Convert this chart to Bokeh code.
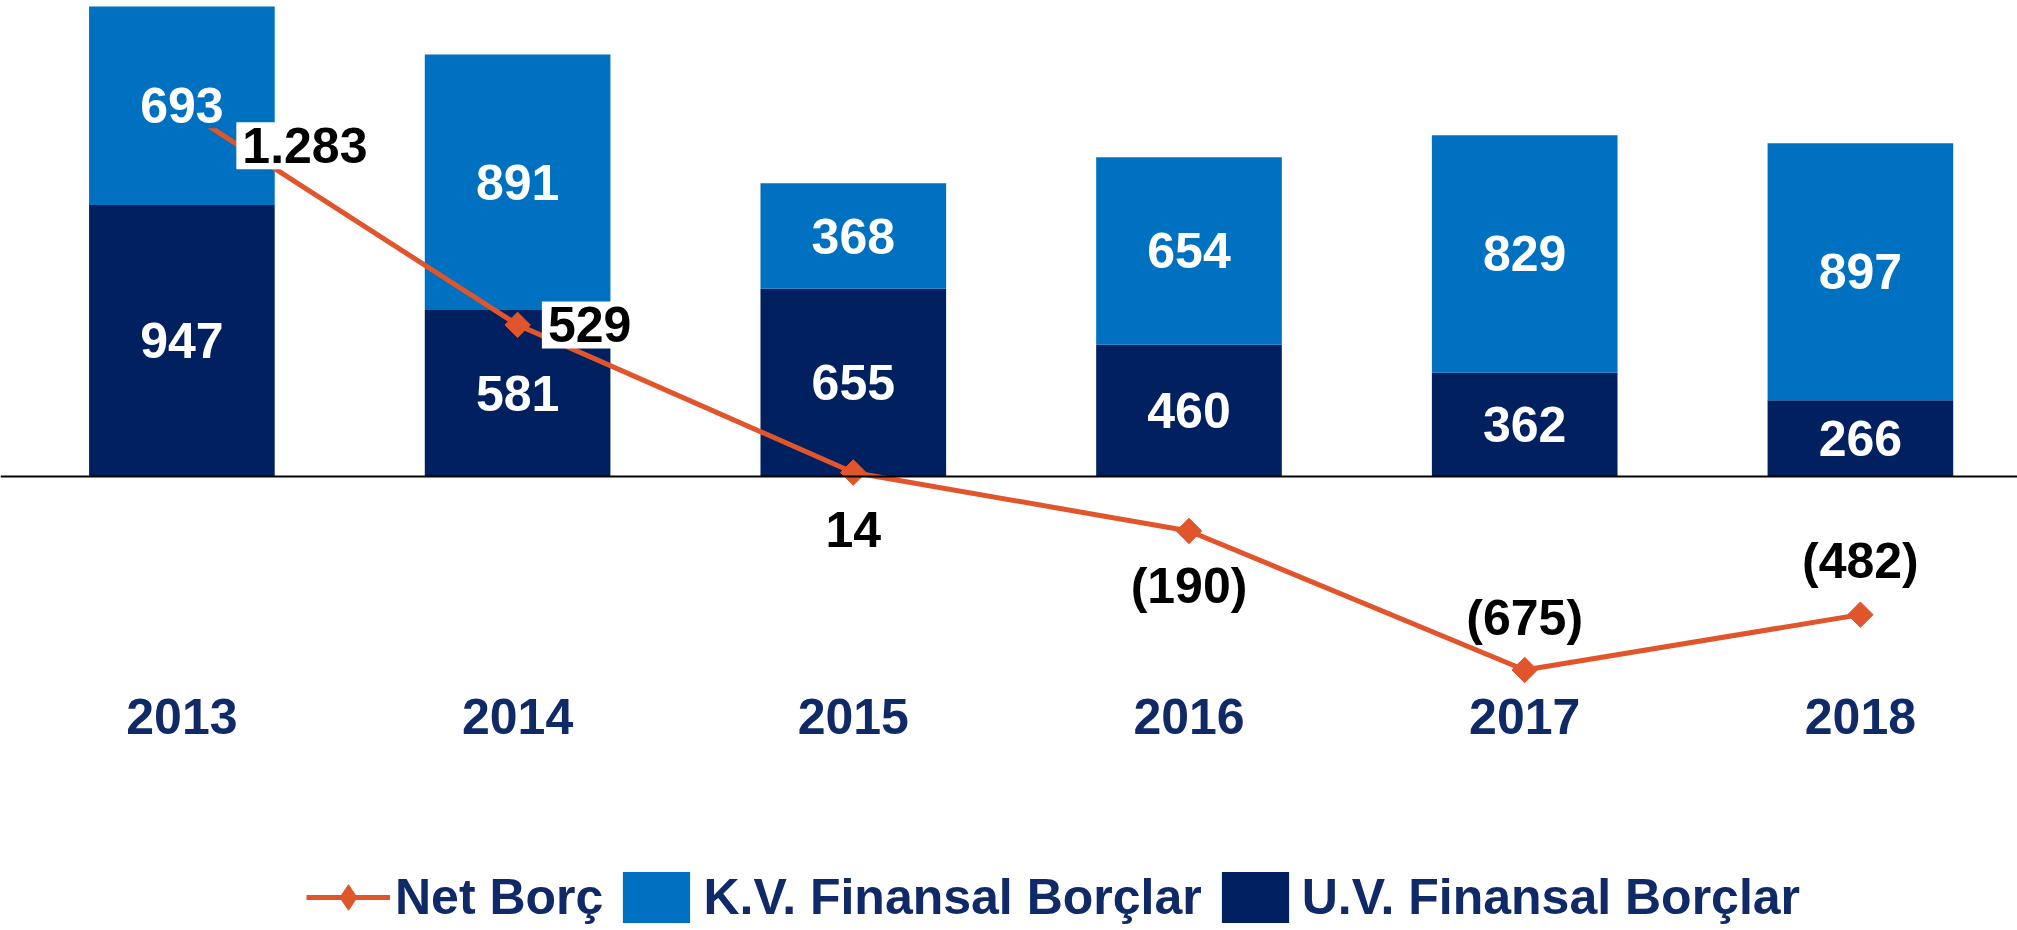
from bokeh.plotting import figure
from bokeh.models import Range1d, Span, Legend, LegendItem, ColumnDataSource
from bokeh.core.properties import value
from bokeh.embed import file_html
from bokeh.resources import INLINE
import numpy as np

# ---- data ----
years = ["2013", "2014", "2015", "2016", "2017", "2018"]
uv_borc = [947, 581, 655, 460, 362, 266]      # U.V. Finansal Borçlar
kv_borc = [693, 891, 368, 654, 829, 897]      # K.V. Finansal Borçlar
net_borc = [1283, 529, 14, -190, -675, -482]  # Net Borç
net_text = ["1.283", "529", "14", "(190)", "(675)", "(482)"]

# ---- style ----
LIGHT = "#0070C0"
DARK = "#002060"
ORANGE = "#E0552B"
NAVY = "#102A68"
FONT = value("Liberation Sans")
FS = "50px"

W, H = 2017, 930
px_per_cat = 335.7
first_center = 181.4
zero_y = 476
px_per_unit = 0.2866

x = np.arange(len(years))
uv = np.array(uv_borc)
kv = np.array(kv_borc)

src = ColumnDataSource(dict(
    x=x, uv=uv, top=uv + kv,
    uv_mid=uv / 2, kv_mid=uv + kv / 2,
    uv_txt=[str(v) for v in uv_borc], kv_txt=[str(v) for v in kv_borc],
    net=net_borc, net_txt=net_text,
    xo=[123, 72, 0, 0, 0, 0], yo=[37, 0, 57, 55, -52, -54],
    bga=[1, 1, 0, 0, 0, 0],
    year=years, label_y=[-(716 - zero_y) / px_per_unit] * len(years),
))

p = figure(width=W, height=H, output_backend="svg", toolbar_location=None,
           x_range=Range1d(-first_center / px_per_cat, (W - first_center) / px_per_cat),
           y_range=Range1d(-(H - zero_y) / px_per_unit, zero_y / px_per_unit),
           x_axis_location=None, y_axis_location=None, min_border=0)
p.grid.visible = False
p.outline_line_color = None
p.background_fill_color = "white"

r_uv = p.vbar(x="x", bottom=0, top="uv", width=0.553, fill_color=DARK, line_color=None, source=src)
r_kv = p.vbar(x="x", bottom="uv", top="top", width=0.553, fill_color=LIGHT, line_color=None, source=src)

p.add_layout(Span(location=0, dimension="width", line_color="black", line_width=2))

r_line = p.line(x="x", y="net", line_color=ORANGE, line_width=5, source=src)
r_mark = p.scatter(x="x", y="net", marker="square", angle=np.pi / 4, size=18,
                   fill_color=ORANGE, line_color=ORANGE, source=src)
# legend-only diamond swatch (a single undrawn NaN point)
r_leg = p.scatter(x=[np.nan], y=[np.nan], marker="diamond", size=26,
                  fill_color=ORANGE, line_color=ORANGE)

# bar value labels
p.text(x="x", y="uv_mid", text="uv_txt", source=src, text_color="white",
       text_font=FONT, text_font_style="bold", text_font_size=FS,
       text_align="center", text_baseline="middle")
p.text(x="x", y="kv_mid", text="kv_txt", source=src, text_color="white",
       text_font=FONT, text_font_style="bold", text_font_size=FS,
       text_align="center", text_baseline="middle",
       background_fill_color=LIGHT, padding=5)

# net labels
p.text(x="x", y="net", text="net_txt", source=src, x_offset="xo", y_offset="yo",
       text_color="black", text_font=FONT, text_font_style="bold", text_font_size=FS,
       text_align="center", text_baseline="middle",
       background_fill_color="white", background_fill_alpha="bga", padding=6)

# category labels
p.text(x="x", y="label_y", text="year", source=src, text_color=NAVY,
       text_font=FONT, text_font_style="bold", text_font_size=FS,
       text_align="center", text_baseline="middle")

legend = Legend(items=[
    LegendItem(label="Net Borç", renderers=[r_line, r_leg]),
    LegendItem(label="K.V. Finansal Borçlar", renderers=[r_kv]),
    LegendItem(label="U.V. Finansal Borçlar", renderers=[r_uv]),
], orientation="horizontal", location=(306, 1),
    glyph_width=84, glyph_height=64, label_standoff=5, spacing=11,
    padding=0, margin=0, border_line_alpha=0, background_fill_alpha=0,
    label_text_font="Liberation Sans", label_text_font_style="bold",
    label_text_font_size=FS, label_text_color=NAVY)
p.add_layout(legend)

open("out.html", "w").write(file_html(p, INLINE))
